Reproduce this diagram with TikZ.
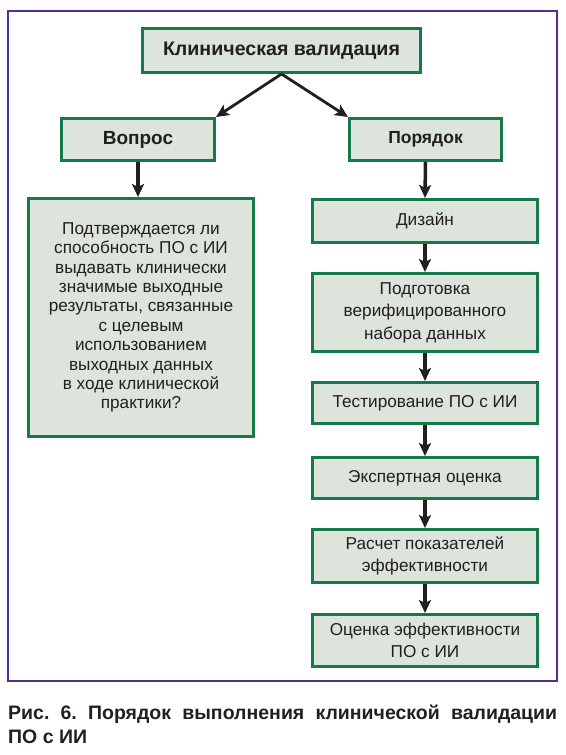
\documentclass[tikz,border=0pt]{standalone}
\usepackage{fontspec}
\setmainfont{Liberation Sans}
\usetikzlibrary{arrows.meta,positioning}

\definecolor{boxgreen}{RGB}{22,122,72}
\definecolor{boxfill}{RGB}{221,228,220}
\definecolor{framepurple}{RGB}{86,44,140}
\definecolor{inkdark}{RGB}{35,31,32}

\begin{document}
\frenchspacing
\begin{tikzpicture}[x=1pt,y=-1pt,
	blok/.style={draw=boxgreen, fill=boxfill, line width=3pt, text=inkdark, align=center, inner sep=2pt, font=\fontsize{17.2}{22.5}\selectfont},
	strelka/.style={draw=inkdark, line width=3.5pt, -{Stealth[length=13pt,width=12pt,inset=3pt]}}]
	\useasboundingbox (0,0) rectangle (565,755);
	\draw[framepurple, line width=2.5pt] (8,11) rectangle (557,681);

	% верхний уровень
	\node[blok, minimum width=278, minimum height=44, font=\bfseries\fontsize{19.6}{22}\selectfont] (klin) at (281.5,50.5) {Клиническая валидация};
	\node[blok, minimum width=153, minimum height=42, font=\bfseries\fontsize{19}{22}\selectfont] (vopros) at (138,139.5) {Вопрос};
	\node[blok, minimum width=152, minimum height=42, font=\bfseries\fontsize{17.5}{22}\selectfont] (poryadok) at (425.5,139.5) {Порядок};

	\draw[strelka, line width=2.8pt] (klin.south) -- (vopros.north east);
	\draw[strelka, line width=2.8pt] (klin.south) -- (poryadok.north west);

	% левая колонка
	\node[blok, minimum width=225, minimum height=238, font=\fontsize{17.2}{19.4}\selectfont] (tekst) at (141,317.5) {Подтверждается ли\\способность ПО с ИИ\\выдавать клинически\\значимые выходные\\результаты, связанные\\с целевым\\использованием\\выходных данных\\в ходе клинической\\практики?};
	\draw[strelka] (vopros.south) -- (vopros.south |- tekst.north);

	% правая колонка
	\node[blok, minimum width=225, minimum height=43] (dizain) at (425,221) {Дизайн};
	\node[blok, minimum width=225, minimum height=78] (podgot) at (425,312.5) {Подготовка\\верифицированного\\набора данных};
	\node[blok, minimum width=225, minimum height=41] (test) at (425,403) {Тестирование ПО с ИИ};
	\node[blok, minimum width=225, minimum height=41] (ekspert) at (425,478) {Экспертная оценка};
	\node[blok, minimum width=225, minimum height=53] (raschet) at (425,556) {Расчет показателей\\эффективности};
	\node[blok, minimum width=225, minimum height=52] (ocenka) at (425,640.5) {Оценка эффективности\\ПО с ИИ};

	\draw[strelka] (poryadok.south) -- (dizain.north);
	\draw[strelka] (dizain) -- (podgot);
	\draw[strelka] (podgot) -- (test);
	\draw[strelka] (test) -- (ekspert);
	\draw[strelka] (ekspert) -- (raschet);
	\draw[strelka] (raschet) -- (ocenka);

	% подпись
	\node[anchor=north west, text width=549pt, align=justify, inner sep=0pt, text=inkdark, font=\bfseries\fontsize{19.5}{24}\selectfont] (podpis) at (8,705) {Рис.~6. Порядок выполнения клинической валидации\linebreak ПО с ИИ};
\end{tikzpicture}
\end{document}
